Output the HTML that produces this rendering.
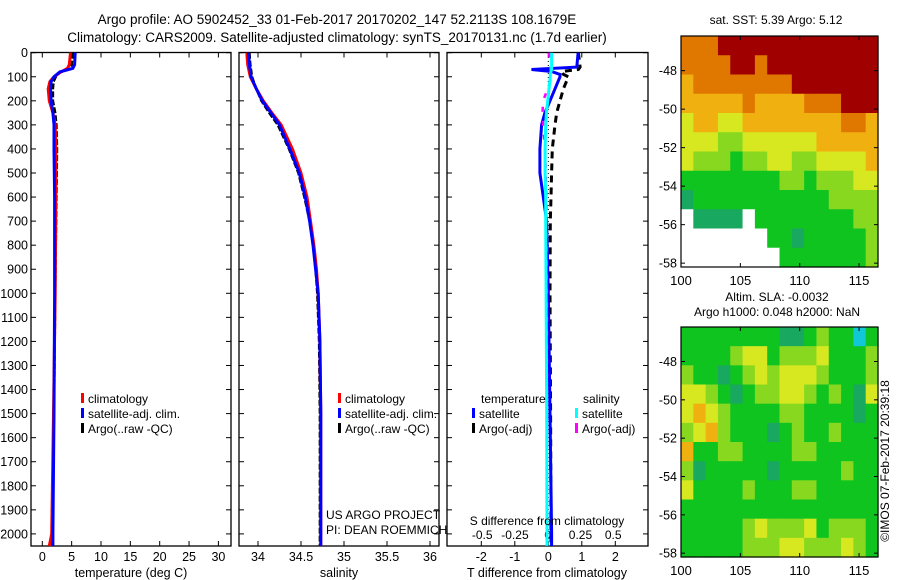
<!DOCTYPE html>
<html><head><meta charset="utf-8"><style>
body{margin:0;background:#fff;}
svg{display:block;font-family:"Liberation Sans",sans-serif;}
</style></head><body>
<svg id="fig" width="900" height="580" viewBox="0 0 900 580" xmlns="http://www.w3.org/2000/svg">
<text x="337" y="24" font-size="13.5" text-anchor="middle">Argo profile: AO 5902452_33 01-Feb-2017 20170202_147 52.2113S 108.1679E</text>
<text x="337" y="42" font-size="13.5" text-anchor="middle">Climatology: CARS2009. Satellite-adjusted climatology: synTS_20170131.nc (1.7d earlier)</text>
<g id="g"></g>
</svg>
<script>
// ---- data ----
const depthLevels=[0,50,65,80,100,120,150,200,250,300,400,600,1000,1500,2000,2050];
const tempClim=[4.8,4.6,4.3,3.2,2.0,1.3,1.0,1.2,1.8,2.2,2.3,2.3,2.2,1.9,1.6,1.2];
const tempSat=[5.6,5.5,5.2,3.0,2.0,1.5,1.4,1.5,1.8,2.0,2.0,2.1,2.1,2.0,1.8,1.8];
const tempArgo=[5.2,5.0,4.6,3.0,2.3,1.9,1.8,1.8,2.2,2.4,2.5,2.4,2.2,2.0,1.6,1.6];
const salDepths=[0,50,100,150,200,250,300,400,500,600,700,800,900,1000,1200,1500,2000,2050];
const salClim=[33.87,33.88,33.91,33.98,34.06,34.16,34.27,34.40,34.50,34.57,34.61,34.65,34.68,34.70,34.72,34.73,34.73,34.73];
const salSat=[33.89,33.90,33.92,33.98,34.05,34.15,34.25,34.37,34.48,34.55,34.60,34.64,34.67,34.70,34.72,34.73,34.73,34.73];
const salArgo=[33.90,33.91,33.93,33.98,34.04,34.13,34.23,34.36,34.47,34.54,34.60,34.64,34.67,34.69,34.71,34.72,34.72,34.72];
const diffDepths=[0,60,70,78,90,100,150,200,250,300,400,500,600,700,1000,1500,2000,2050];
const tDiffSat=[0.89,0.85,-0.5,0.1,0.35,0.35,0.2,0.05,-0.1,-0.2,-0.25,-0.25,-0.15,-0.05,0.0,0.05,0.1,0.1];
const tDiffArgo=[0.9,0.95,0.9,0.4,0.45,0.6,0.45,0.35,0.25,0.2,0.12,0.1,0.08,0.06,0.05,0.07,0.08,0.08];
const sDiffSat=[0.03,0.03,0.03,0.025,0.02,0.02,0.01,0.0,-0.01,-0.015,-0.02,-0.02,-0.015,-0.015,-0.012,-0.008,-0.005,-0.005];
const sDiffArgo=[0.01,0.02,0.02,0.03,0.03,0.03,0.0,-0.035,-0.04,-0.035,-0.02,-0.015,-0.01,-0.01,-0.005,-0.005,-0.004,-0.004];
const depthTicks=[0,100,200,300,400,500,600,700,800,900,1000,1100,1200,1300,1400,1500,1600,1700,1800,1900,2000];
const tempTicks=[0,5,10,15,20,25,30];
const salTicks=[34,34.5,35,35.5,36];
const tdTicks=[-2,-1,0,1,2];
const sdTicks=[-0.5,-0.25,0,0.25,0.5];
const sdTickLabels=["-0.5","-0.25","0","0.25","0.5"];
const latTicks=[48,50,52,54,56,58];
const lonTicks=[100,105,110,115];
const sstGrid=[
"8889999999999999","8888998999999999","7888888889999999","7777787777888999",
"6776677777777887","6665566666677777","6555455665566667","4444444455455566",
"3444444444445555","0333304444444455","0000000443444445","0000000044444445"];
const slaGrid=[
"4444444433454424","4444566455564445","5443456566654445","6654345566545436",
"6765444455444434","5675444345445444","7445544445544444","5344444344444544",
"6444454445544444","4444444444444444","4444456555645554","4444455566555654"];
const levelColors=["#ffffff","#000080","#10c8d8","#18a860","#10c420","#88d820","#d8e820","#f0b010","#e07800","#a00000"];
// ---- helpers ----
const g=document.getElementById('g');
const NS="http://www.w3.org/2000/svg";
function mk(tag,attrs,parent){const e=document.createElementNS(NS,tag);for(const k in attrs)e.setAttribute(k,attrs[k]);(parent||g).appendChild(e);return e;}
const yTop=52.7,yPer=0.2406;
const yD=d=>yTop+d*yPer;
const xT=t=>42.3+t*5.87;
const xS=s=>258+(s-34)*86;
const xTD=t=>548.3+t*33.5;
const xSD=s=>547.7+s*131;
function frame(x0,x1,name){
  const r=mk('rect',{x:x0,y:52.5,width:x1-x0,height:493.5,fill:'none',stroke:'#000','stroke-width':1.3});
  
  depthTicks.forEach(d=>{const y=yD(d);mk('line',{x1:x0,x2:x0+5,y1:y,y2:y,stroke:'#000'});mk('line',{x1:x1,x2:x1-5,y1:y,y2:y,stroke:'#000'});});
}
function xTicks(vals,fx,labels,ylab,name){
  vals.forEach((v,i)=>{const x=fx(v);mk('line',{x1:x,x2:x,y1:52.5,y2:57.5,stroke:'#000'});mk('line',{x1:x,x2:x,y1:546,y2:541,stroke:'#000'});
   const t=mk('text',{x:x,y:ylab,'font-size':12.5,'text-anchor':'middle'});t.textContent=labels?labels[i]:String(v);
   });
}
function line(xs,ds,fx,color,name,w,dash){
  const pts=xs.map((v,i)=>fx(v).toFixed(1)+','+yD(ds[i]).toFixed(1)).join(' ');
  const p=mk('polyline',{points:pts,fill:'none',stroke:color,'stroke-width':w||3,'stroke-linejoin':'miter'});
  if(dash)p.setAttribute('stroke-dasharray',dash);
  
}
function txt(x,y,s,name,size,anchor){const t=mk('text',{x:x,y:y,'font-size':size||12.5,'text-anchor':anchor||'start'});t.textContent=s;return t;}
function legend(x,y,c,s,name){mk('rect',{x:x,y:y-10,width:3,height:10,fill:c});txt(x+7,y,s,name,12);}
depthTicks.forEach(d=>{txt(28,yD(d)+4.5,String(d),'depth-tick-label',12.5,'end');});
// panel 1
frame(31,231,'temperature-panel');
xTicks(tempTicks,xT,null,561,'temperature-tick-label');
line(tempArgo,depthLevels,xT,'#000','argo-temperature-line',2.5,'6,2');
line(tempClim,depthLevels,xT,'#ff0000','climatology-temperature-line',3);
line(tempSat,depthLevels,xT,'#0000ff','satellite-temperature-line',3);
txt(131,577,'temperature (deg C)','x-axis-title-temperature',12.5,'middle');
legend(81,403,'#ff0000','climatology','legend-climatology');
legend(81,418,'#0000ff','satellite-adj. clim.','legend-satellite');
legend(81,433,'#000','Argo(..raw -QC)','legend-argo');
// panel 2
frame(239,439,'salinity-panel');
xTicks(salTicks,xS,null,561,'salinity-tick-label');
line(salArgo,salDepths,xS,'#000','argo-salinity-line',2.5,'6,2');
line(salClim,salDepths,xS,'#ff0000','climatology-salinity-line',3);
line(salSat,salDepths,xS,'#0000ff','satellite-salinity-line',3);
txt(339,577,'salinity','x-axis-title-salinity',12.5,'middle');
legend(338,403,'#ff0000','climatology','legend-climatology');
legend(338,418,'#0000ff','satellite-adj. clim.','legend-satellite');
legend(338,433,'#000','Argo(..raw -QC)','legend-argo');
txt(326,519,'US ARGO PROJECT','credit-project',12);
txt(326,534,'PI: DEAN ROEMMICH','credit-pi',12);
// panel 3
frame(447,648,'difference-panel');
mk('line',{x1:548.3,x2:548.3,y1:53,y2:546,stroke:'#000','stroke-dasharray':'1,3'});
xTicks(tdTicks,xTD,null,561,'t-diff-tick-label');
sdTicks.forEach((v,i)=>txt(xSD(v),539,sdTickLabels[i],'s-diff-tick-label',12,'middle'));
line(tDiffArgo,diffDepths,xTD,'#000','argo-t-diff-line',3,'7,5');
line(tDiffSat,diffDepths,xTD,'#0000ff','satellite-t-diff-line',3);
line(sDiffArgo,diffDepths,xSD,'#ff00ff','argo-s-diff-line',2.5,'5,9');
line(sDiffSat,diffDepths,xSD,'#00ffff','satellite-s-diff-line',3);
txt(547,525,'S difference from climatology','s-diff-axis-title',12,'middle');
txt(547,577,'T difference from climatology','t-diff-axis-title',12.5,'middle');
txt(481,403,'temperature','legend-temperature-header',12);
legend(472,418,'#0000ff','satellite','legend-t-satellite');
legend(472,433,'#000','Argo(-adj)','legend-t-argo');
txt(583,403,'salinity','legend-salinity-header',12);
legend(575,418,'#00ffff','satellite','legend-s-satellite');
legend(575,433,'#ff00ff','Argo(-adj)','legend-s-argo');
// maps
function map(grid,y0,y1,name){
  const x0=681,x1=878,lat0=46.2;
  const xL=lon=>681+(lon-100)*11.87;
  const yL=lat=>y0+(lat-lat0)*((y1-y0)/12);
  const cols=grid[0].length;
  const cw=(x1-x0)/cols;
  grid.forEach((row,r)=>{for(let c=0;c<cols;c++){
    const lv=+row[c];
    const cell=mk('rect',{x:(x0+c*cw).toFixed(2),y:yL(lat0+r).toFixed(2),width:(cw+0.6).toFixed(2),height:((y1-y0)/12+0.6).toFixed(2),fill:levelColors[lv]});
    
    
  }});
  const fr=mk('rect',{x:x0,y:y0,width:x1-x0,height:y1-y0,fill:'none',stroke:'#000','stroke-width':1.2});
  
  latTicks.forEach(l=>{const y=yL(l);mk('line',{x1:x0,x2:x0+4,y1:y,y2:y,stroke:'#000'});mk('line',{x1:x1,x2:x1-4,y1:y,y2:y,stroke:'#000'});
    txt(677,y+4.5,'-'+l,'latitude-tick-label',12.5,'end');});
  lonTicks.forEach(l=>{const x=xL(l);mk('line',{x1:x,x2:x,y1:y0,y2:y0+4,stroke:'#000'});mk('line',{x1:x,x2:x,y1:y1,y2:y1-4,stroke:'#000'});
    txt(x,y1+18,String(l),'longitude-tick-label',13,'middle');});
}
map(sstGrid,36,267,'sst-map');
map(slaGrid,327,557,'sla-map');
txt(776,24,'sat. SST: 5.39 Argo: 5.12','sst-map-title',12,'middle');
txt(777,301,'Altim. SLA: -0.0032','sla-map-title',12,'middle');
txt(777,316,'Argo h1000: 0.048 h2000: NaN','sla-map-subtitle',12,'middle');
const c=txt(0,0,'©IMOS 07-Feb-2017 20:39:18','imos-credit',12,'middle');
c.setAttribute('transform','translate(889,461) rotate(-90)');
</script>
</body></html>
